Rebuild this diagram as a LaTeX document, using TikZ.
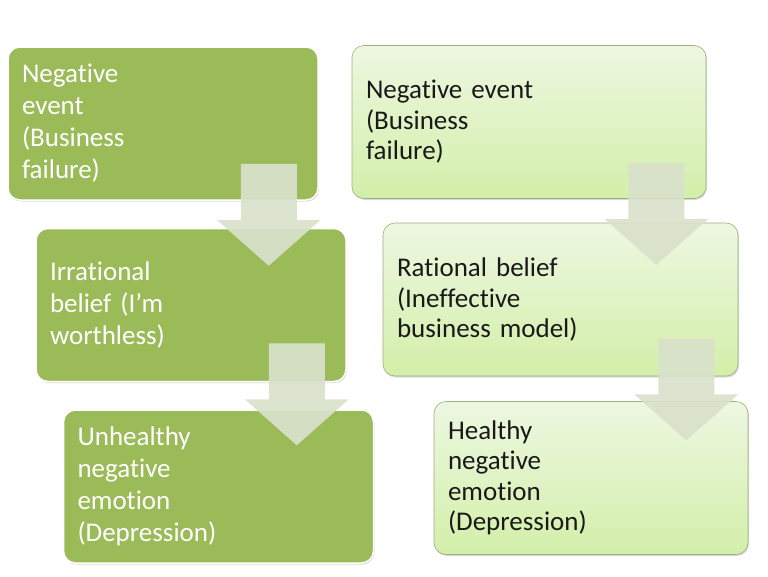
\documentclass[tikz,border=0pt]{standalone}
\usepackage{fontspec}
\setmainfont{Carlito}[Ligatures=NoCommon]
\usetikzlibrary{calc,shadows}

\definecolor{darkgreen}{HTML}{9BBB59}
\definecolor{lighttop}{HTML}{EDF7E1}
\definecolor{lightbot}{HTML}{D3EFA9}
\definecolor{lightline}{HTML}{9DAE7E}
\definecolor{arrowgray}{HTML}{D9E1CB}

\begin{document}
\begin{tikzpicture}[x=1pt,y=-1pt,
    box/.style={rectangle,rounded corners=12pt,align=left,inner xsep=14pt,
      minimum height=153pt,
      drop shadow={shadow xshift=1pt,shadow yshift=-1.5pt,opacity=0.3}},
    dark box/.style={box,fill=darkgreen,draw=white,line width=1.5pt,text=white,text width=282pt,
      font={\fontsize{27}{32}\selectfont}},
    light box/.style={box,top color=lighttop,bottom color=lightbot,draw=lightline,line width=0.6pt,text=black!90,
      font={\fontsize{27}{30.5}\selectfont}},
    flowarrow/.pic={\fill[arrowgray,opacity=0.92] (-28,0) -- (28,0) -- (28,56) -- (52,56)
      -- (0,102) -- (-52,56) -- (-28,56) -- cycle;}]

  \useasboundingbox (0,0) rectangle (768,576);

  % irrational chain
  \node[dark box] (neg) at (163,123.5) {Negative\\event\\(Business\\failure)};
  \node[dark box] (irr) at (191,305) {Irrational\\belief (I’m\\worthless)};
  \node[dark box] (unh) at (218.5,486.5) {Unhealthy\\negative\\emotion\\(Depression)};

  % rational chain
  \node[light box,text width=326pt] (negr) at (529,122) {Negative event\\(Business\\failure)};
  \node[light box,text width=327pt] (rat) at (560.5,299.5) {Rational belief\\(Ineffective\\business model)};
  \node[light box,text width=286pt] (hea) at (591,478) {Healthy\\negative\\emotion\\(Depression)};

  \pic at ($(neg.south east)+(-50,-37)$) {flowarrow};
  \pic at ($(irr.south east)+(-50,-39)$) {flowarrow};
  \pic at ($(negr.south east)+(-50,-36)$) {flowarrow};
  \pic at ($(rat.south east)+(-52,-38)$) {flowarrow};

\end{tikzpicture}
\end{document}
